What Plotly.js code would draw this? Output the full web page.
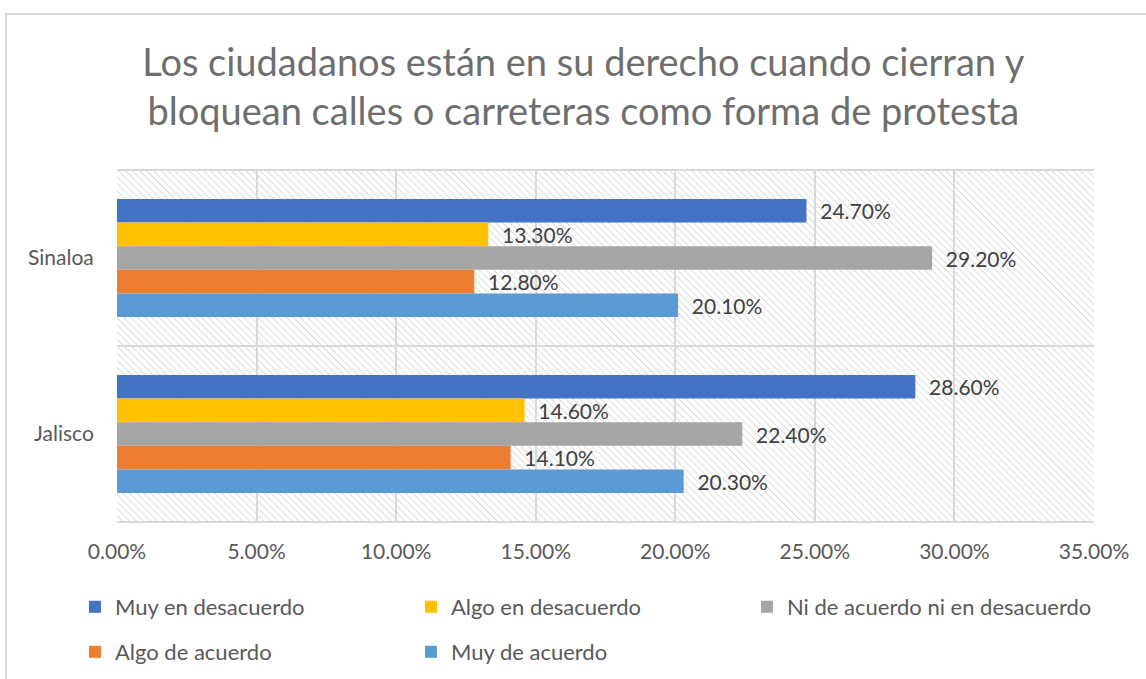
<!DOCTYPE html>
<html>
<head>
<meta charset="utf-8">
<script src="https://cdn.plot.ly/plotly-3.0.1.min.js"></script>
<style>
  html, body { margin: 0; padding: 0; background: #ffffff; overflow: hidden; }
  #wrap { position: relative; width: 1146px; height: 679px; }
  #frame { position: absolute; left: 5px; top: 13px; width: 1200px; height: 700px;
           border-left: 2px solid #d9d9d9; border-top: 2px solid #d9d9d9; box-sizing: border-box; pointer-events: none; }
  #chart { position: absolute; left: 0; top: 0; width: 1146px; height: 679px; }
</style>
</head>
<body>
<div id="wrap">
  <div id="frame"></div>
  <div id="chart"></div>
</div>
<script>
// ---- data ----
const categories = ['Sinaloa', 'Jalisco'];
const seriesNames = ['Muy en desacuerdo', 'Algo en desacuerdo', 'Ni de acuerdo ni en desacuerdo', 'Algo de acuerdo', 'Muy de acuerdo'];
const muyEnDesacuerdo = [0.247, 0.286];
const algoEnDesacuerdo = [0.133, 0.146];
const niDeAcuerdo = [0.292, 0.224];
const algoDeAcuerdo = [0.128, 0.141];
const muyDeAcuerdo = [0.201, 0.203];
const xTickValues = [0, 0.05, 0.10, 0.15, 0.20, 0.25, 0.30, 0.35];
const titleText = 'Los ciudadanos están en su derecho cuando cierran y<br>bloquean calles o carreteras como forma de protesta';

const seriesValues = [muyEnDesacuerdo, algoEnDesacuerdo, niDeAcuerdo, algoDeAcuerdo, muyDeAcuerdo];
const colors = ['#4472C4', '#FFC000', '#A5A5A5', '#ED7D31', '#5B9BD5'];
// one legend box per entry so the entries sit in a 3-column grid
const legendIds = ['legend', 'legend2', 'legend3', 'legend4', 'legend5'];
const legendX = [0.0654, 0.3586, 0.6518, 0.0654, 0.3586];
const legendY = [0.137, 0.137, 0.137, 0.0707, 0.0707];

const FONT = 'Lato, "Open Sans", sans-serif';

const traces = seriesNames.map((name, i) => ({
  type: 'bar',
  orientation: 'h',
  name: name,
  y: categories,
  x: seriesValues[i],
  marker: { color: colors[i], line: { width: 0 } },
  texttemplate: '\u00a0\u00a0%{x:.2%}',
  textposition: 'outside',
  cliponaxis: false,
  constraintext: 'none',
  outsidetextfont: { family: FONT, size: 21, color: '#404040' },
  legend: legendIds[i],
  hoverinfo: 'name+x'
}));

// hatched plot background
const PW = 977, PH = 352;
const svg = `<svg xmlns="http://www.w3.org/2000/svg" width="${PW}" height="${PH}">` +
  `<defs><pattern id="h" width="5" height="5" patternUnits="userSpaceOnUse" patternTransform="rotate(-45)">` +
  `<rect width="5" height="5" fill="#ffffff"/><line x1="0" y1="0" x2="0" y2="5" stroke="#d4d4d4" stroke-width="1.6"/></pattern></defs>` +
  `<rect width="${PW}" height="${PH}" fill="url(#h)"/></svg>`;
const hatch = 'data:image/svg+xml;charset=utf-8,' + encodeURIComponent(svg);

const gridColor = '#d9d9d9';

const layout = {
  width: 1146, height: 679,
  margin: { l: 117, r: 52, t: 170, b: 157 },
  paper_bgcolor: 'rgba(0,0,0,0)',
  plot_bgcolor: 'rgba(0,0,0,0)',
  font: { family: FONT, color: '#595959' },
  title: {
    text: titleText,
    font: { family: FONT, size: 38, color: '#6e6e6e' },
    x: 0.509, xanchor: 'center', xref: 'container',
    y: 0.888, yanchor: 'middle', yref: 'container'
  },
  barmode: 'group',
  bargap: 0.33,
  bargroupgap: 0,
  xaxis: {
    range: [0, 0.35],
    tickvals: xTickValues,
    tickformat: '.2%',
    showgrid: true, gridcolor: gridColor, gridwidth: 2,
    zeroline: false, showline: false,
    ticks: 'outside', ticklen: 11, tickcolor: 'rgba(0,0,0,0)',
    tickfont: { family: FONT, size: 21, color: '#595959' },
    fixedrange: true
  },
  yaxis: {
    categoryorder: 'array', categoryarray: categories,
    autorange: 'reversed',
    showgrid: false, zeroline: false, showline: false,
    ticks: 'outside', ticklen: 18, tickcolor: 'rgba(0,0,0,0)',
    tickfont: { family: FONT, size: 21, color: '#595959' },
    fixedrange: true
  },
  shapes: [0, 0.5, 1].map(v => ({
    type: 'line', xref: 'paper', yref: 'paper', x0: 0, x1: 1, y0: v, y1: v,
    line: { color: gridColor, width: 2 }, layer: 'below'
  })),
  images: [{
    source: hatch, xref: 'paper', yref: 'paper', x: 0, y: 1, sizex: 1, sizey: 1,
    xanchor: 'left', yanchor: 'top', sizing: 'stretch', layer: 'below'
  }],
  showlegend: true
};

legendIds.forEach((id, i) => {
  layout[id] = {
    orientation: 'h', xref: 'container', yref: 'container',
    x: legendX[i], y: legendY[i], xanchor: 'left', yanchor: 'top',
    font: { family: FONT, size: 22, color: '#595959' },
    bgcolor: 'rgba(0,0,0,0)', itemclick: false, itemdoubleclick: false
  };
});

Plotly.newPlot('chart', traces, layout, { displayModeBar: false });
</script>
</body>
</html>
